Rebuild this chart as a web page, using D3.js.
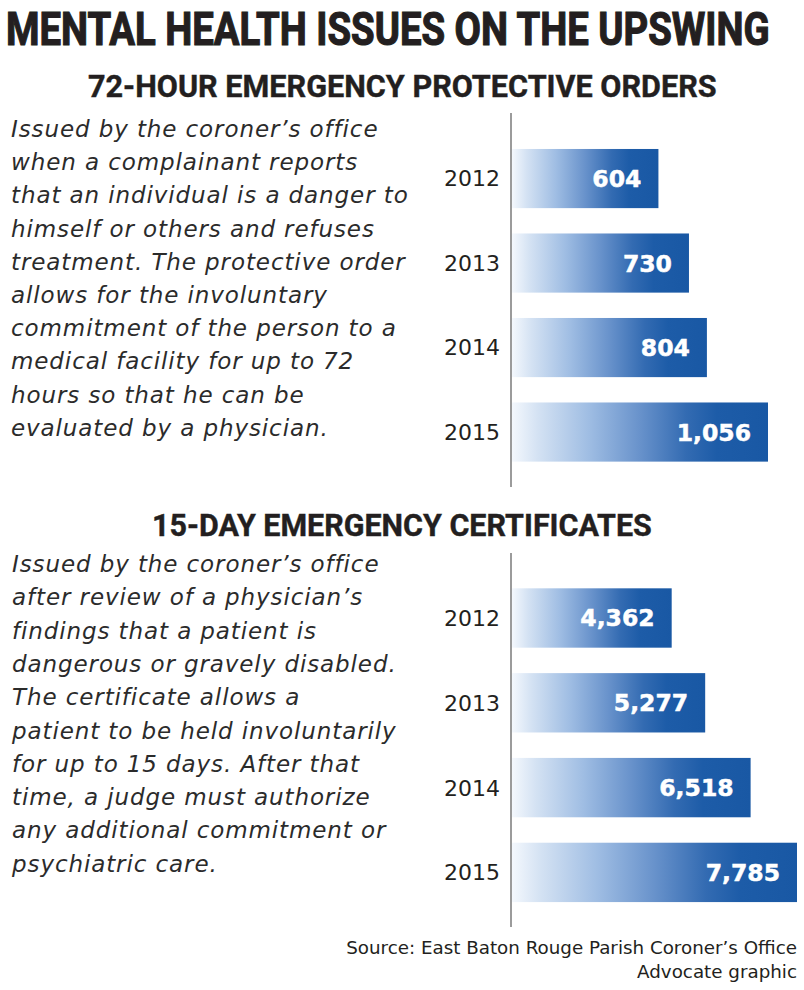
<!DOCTYPE html>
<html>
<head>
<meta charset="utf-8">
<script src="https://cdn.jsdelivr.net/npm/d3@7"></script>
<style>
  html, body { margin: 0; padding: 0; background: #ffffff; }
  svg { display: block; }
</style>
</head>
<body>
<svg id="chart" width="804" height="990"></svg>
<script>
// ---- DATA ----
const years = ["2012", "2013", "2014", "2015"];
const ordersValues = [604, 730, 804, 1056];
const certValues = [4362, 5277, 6518, 7785];

const mainTitle = "MENTAL HEALTH ISSUES ON THE UPSWING";
const ordersTitle = "72-HOUR EMERGENCY PROTECTIVE ORDERS";
const certTitle = "15-DAY EMERGENCY CERTIFICATES";

const ordersText = [
  "Issued by the coroner\u2019s office",
  "when a complainant reports",
  "that an individual is a danger to",
  "himself or others and refuses",
  "treatment. The protective order",
  "allows for the involuntary",
  "commitment of the person to a",
  "medical facility for up to 72",
  "hours so that he can be",
  "evaluated by a physician."
];
const certText = [
  "Issued by the coroner\u2019s office",
  "after review of a physician\u2019s",
  "findings that a patient is",
  "dangerous or gravely disabled.",
  "The certificate allows a",
  "patient to be held involuntarily",
  "for up to 15 days. After that",
  "time, a judge must authorize",
  "any additional commitment or",
  "psychiatric care."
];
const sourceLines = [
  "Source: East Baton Rouge Parish Coroner\u2019s Office",
  "Advocate graphic"
];

// ---- DRAW ----
const svg = d3.select("#chart");
const ink = "#231f20";

// gradient
const defs = svg.append("defs");
const grad = defs.append("linearGradient")
  .attr("id", "barGrad")
  .attr("x1", "0%").attr("x2", "100%").attr("y1", "0%").attr("y2", "0%");
[
  [0.00, "#f4f8fd"],
  [0.10, "#d4e2f3"],
  [0.30, "#9fbde3"],
  [0.50, "#6892cb"],
  [0.68, "#336bb2"],
  [0.80, "#1d5ca8"],
  [1.00, "#1958a4"]
].forEach(([o, c]) => grad.append("stop").attr("offset", o).attr("stop-color", c));

// condensed heading: scale horizontally to the measured width
function heading(txt, x, y, width, size, stroke) {
  const g = svg.append("g");
  const t = g.append("text")
    .attr("x", 0).attr("y", 0)
    .style("font-family", "Roboto, 'DejaVu Sans', sans-serif")
    .style("font-weight", 700)
    .style("font-size", size + "px")
    .style("fill", ink)
    .style("stroke", ink)
    .style("stroke-width", stroke)
    .text(txt);
  const natural = t.node().getComputedTextLength();
  g.attr("transform", `translate(${x},${y}) scale(${width / natural},1)`);
}
heading(mainTitle, 6, 45, 764, 47, 1.2);
heading(ordersTitle, 88, 97, 629, 31, 0.4);
heading(certTitle, 152, 536, 500, 31, 0.4);

function paragraph(lines, x, y0, lh) {
  const t = svg.append("g");
  t.selectAll("text").data(lines).join("text")
    .attr("x", x)
    .attr("y", (d, i) => y0 + i * lh)
    .style("font-family", "'DejaVu Sans', Verdana, sans-serif")
    .style("font-style", "italic")
    .style("font-size", "23px")
    .style("letter-spacing", "0.9px")
    .style("fill", "#2b2b2b")
    .text(d => d);
}
paragraph(ordersText, 11, 137, 33.2);
paragraph(certText, 12, 572, 33.3);

function barChart(values, xRange, yRange, axisTop, axisBottom) {
  const data = years.map((y, i) => ({ year: y, value: values[i] }));
  const x = d3.scaleLinear().domain([0, d3.max(values)]).range(xRange);
  const y = d3.scaleBand().domain(years).range(yRange)
    .paddingInner(0.3).paddingOuter(0.15);
  const g = svg.append("g");

  g.selectAll("rect.bar").data(data).join("rect")
    .attr("class", "bar")
    .attr("x", x(0))
    .attr("y", d => y(d.year))
    .attr("width", d => x(d.value) - x(0))
    .attr("height", y.bandwidth())
    .attr("fill", "url(#barGrad)");

  g.selectAll("text.val").data(data).join("text")
    .attr("class", "val")
    .attr("x", d => x(d.value) - 17)
    .attr("y", d => y(d.year) + y.bandwidth() / 2)
    .attr("dy", "0.36em")
    .attr("text-anchor", "end")
    .style("font-family", "'DejaVu Sans', sans-serif")
    .style("font-weight", 700)
    .style("font-size", "23.5px")
    .style("fill", "#ffffff")
    .style("stroke", "#ffffff")
    .style("stroke-width", 0.5)
    .text(d => d3.format(",")(d.value));

  const axis = d3.axisLeft(y).tickSize(0).tickPadding(11);
  const ag = g.append("g").attr("transform", `translate(${x(0) - 1},0)`).call(axis);
  ag.select(".domain").remove();
  ag.selectAll("text")
    .style("font-family", "'DejaVu Sans', sans-serif")
    .style("font-size", "22px")
    .style("fill", ink)
    .attr("dy", "0.36em");

  g.append("line")
    .attr("x1", x(0) - 1).attr("x2", x(0) - 1)
    .attr("y1", axisTop).attr("y2", axisBottom)
    .attr("stroke", "#7a7a7a").attr("stroke-width", 1.5);
}
barChart(ordersValues, [512, 768], [136.3, 474.3], 113, 487);
barChart(certValues, [512, 797], [575.6, 914.8], 553, 927);

svg.append("g").selectAll("text").data(sourceLines).join("text")
  .attr("x", 797)
  .attr("y", (d, i) => 954 + i * 24)
  .attr("text-anchor", "end")
  .style("font-family", "'DejaVu Sans', sans-serif")
  .style("font-size", "18.3px")
  .style("fill", ink)
  .text(d => d);
</script>
</body>
</html>
